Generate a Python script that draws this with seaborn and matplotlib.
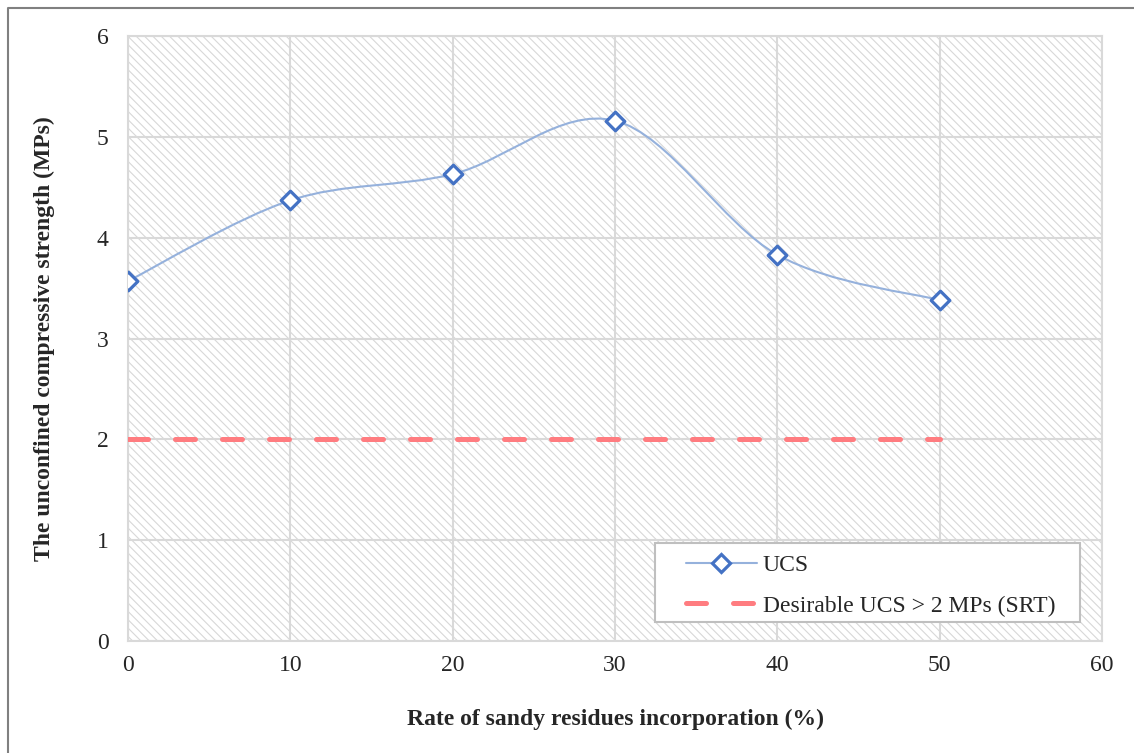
import numpy as np
import pandas as pd
import seaborn as sb
import matplotlib.pyplot as plt
import matplotlib.path as mpath
import matplotlib.patches as mpatches
from matplotlib.lines import Line2D

# data
rate = [0, 10, 20, 30, 40, 50]
ucs = [3.57, 4.37, 4.63, 5.16, 3.83, 3.38]
srt_x = [0, 50]
srt_y = [2, 2]
x_ticks = [0, 10, 20, 30, 40, 50, 60]
y_ticks = [0, 1, 2, 3, 4, 5, 6]


def smooth_path(xs, ys):
    """excel-like smoothed line as bezier segments"""
    pts = np.column_stack([xs, ys]).astype(float)
    n = len(pts)
    verts = [pts[0]]
    codes = [mpath.Path.MOVETO]
    for i in range(n - 1):
        p_prev = pts[max(i - 1, 0)]
        p0 = pts[i]
        p1 = pts[i + 1]
        p_next = pts[min(i + 2, n - 1)]
        c1 = p0 + (p1 - p_prev) / 6.0
        c2 = p1 - (p_next - p0) / 6.0
        verts += [c1, c2, p1]
        codes += [mpath.Path.CURVE4] * 3
    return mpath.Path(verts, codes)


sb.set_style("white")
plt.rcParams["font.family"] = ["Liberation Serif", "DejaVu Serif"]
plt.rcParams["hatch.color"] = "#d8d8d8"
plt.rcParams["hatch.linewidth"] = 0.8

df = pd.DataFrame({"rate": rate, "UCS": ucs})
srt = pd.DataFrame({"x": srt_x, "y": srt_y})

fig = plt.figure(figsize=(11.34, 7.53), dpi=100)
ax = fig.add_axes([0.1129, 0.1487, 0.8589, 0.8035])

# hatched plot area
ax.add_patch(mpatches.Rectangle((0, 0), 1, 1, transform=ax.transAxes,
                                facecolor="white", edgecolor="#d8d8d8",
                                hatch="\\\\\\\\", linewidth=0, zorder=0))

ax.set_xlim(0, 60)
ax.set_ylim(0, 6)
ax.set_xticks(x_ticks)
ax.set_yticks(y_ticks)
ax.grid(True, color="#d9d9d9", linewidth=1.5, zorder=1)
ax.set_axisbelow(True)
for s in ax.spines.values():
    s.set_color("#d9d9d9")
    s.set_linewidth(1.5)

red_dash = (4.0, 5.4)
sb.lineplot(data=srt, x="x", y="y", ax=ax, color="#ff7c80", linewidth=3.6,
            dashes=False, zorder=3).lines[-1].set(dashes=red_dash,
                                                 dash_capstyle="round")

ax.add_patch(mpatches.PathPatch(smooth_path(rate, ucs), facecolor="none",
                                edgecolor="#95b1dc", linewidth=1.5, zorder=4))
sb.scatterplot(data=df, x="rate", y="UCS", ax=ax, marker="D", s=90,
               facecolor="white", edgecolor="#4472c4", linewidth=2.3, zorder=5)

ax.tick_params(axis="both", length=0, labelsize=17)
ax.tick_params(axis="y", pad=14)
ax.tick_params(axis="x", pad=10)
ax.set_xlabel("Rate of sandy residues incorporation (%)", fontsize=17,
              fontweight="bold", labelpad=24)
ax.set_ylabel("The unconfined compressive strength (MPs)", fontsize=17,
              fontweight="bold", labelpad=30)

# legend box drawn separately so its padding matches the excel one
ax.add_patch(mpatches.Rectangle((0.5411, 0.0314), 0.4363, 0.1306,
                                transform=ax.transAxes, facecolor="white",
                                edgecolor="#bfbfbf", linewidth=1.5, zorder=6))
handles = [
    Line2D([], [], color="#95b1dc", linewidth=1.5, marker="D", markersize=9,
           markerfacecolor="white", markeredgecolor="#4472c4",
           markeredgewidth=2.3),
    Line2D([], [], color="#ff7c80", linewidth=3.6, dashes=red_dash,
           dash_capstyle="round"),
]
leg = ax.legend(handles, ["UCS", "Desirable UCS > 2 MPs (SRT)"],
                loc="center left", bbox_to_anchor=(0.5729, 0.0917),
                borderaxespad=0, borderpad=0, fontsize=17, handlelength=3.0,
                frameon=False, labelspacing=0.82, handletextpad=0.25)
leg.set_zorder(7)

# outer chart border (left and top only)
fig.add_artist(Line2D([8 / 1134, 8 / 1134, 1], [0, 1 - 8 / 753, 1 - 8 / 753],
                      transform=fig.transFigure, color="#808080", linewidth=1.5))

fig.savefig("out.png", dpi=100)
